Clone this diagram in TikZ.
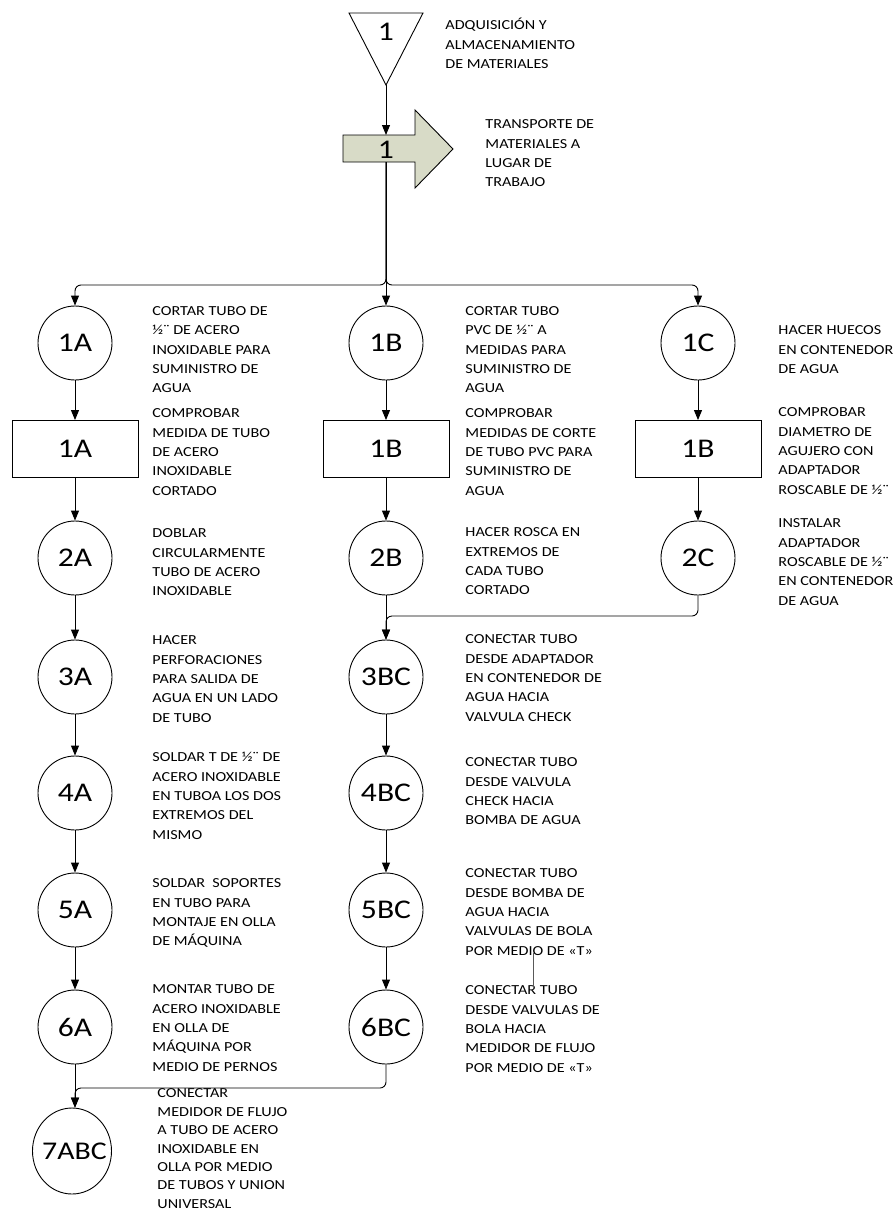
\documentclass[tikz,border=0pt]{standalone}
\usepackage{fontspec}
\setmainfont{Carlito}[FakeStretch=1.17]
\usetikzlibrary{arrows.meta,shapes.geometric}
\definecolor{transfill}{RGB}{216,219,199}
% description text: (name, x, y of first line, lines)
\newcommand\desc[4]{\node[desc] (#1) at ({#2},{#3-8.65}) {\rule{0pt}{13pt}#4};}
\begin{document}
\begin{tikzpicture}[x=1pt,y=-1pt,
  line width=0.9pt,
  arr/.style={-{Triangle[length=10pt,width=8pt]}},
  bigtext/.style={font=\fontsize{27}{30}\selectfont},
  op/.style={circle,draw,minimum size=74pt,inner sep=0pt,bigtext},
  insp/.style={rectangle,draw,minimum width=126pt,minimum height=57pt,inner sep=0pt,bigtext},
  desc/.style={anchor=north west,inner sep=0pt,align=left,font=\fontsize{13.8}{19.3}\selectfont},
  elbow/.style={rounded corners=6pt}
]
\useasboundingbox (0,0) rectangle (895,1213);

% storage triangle
\draw (349,13) -- (423,13) -- (386,85) -- cycle;
\node[bigtext,inner sep=0pt] (t1) at (386,32) {1};
\coordinate (t1tip) at (386,85);

% transport arrow
\draw[fill=transfill] (343,135) -- (415,135) -- (415,110) -- (453,149)
  -- (415,188) -- (415,162) -- (343,162) -- cycle;
\node[bigtext,inner sep=0pt] (tr1) at (386,150) {1};
\coordinate (tr1top) at (386,135);
\coordinate (tr1bot) at (386,162);
\coordinate (bus) at (386,285);

% column A
\node[op] (c1A) at (75,343) {1A};
\node[insp] (b1A) at (75,449) {1A};
\node[op] (c2A) at (75,558) {2A};
\node[op] (c3A) at (75,677) {3A};
\node[op] (c4A) at (75,793) {4A};
\node[op] (c5A) at (75,910) {5A};
\node[op] (c6A) at (75,1027) {6A};
\node[ellipse,draw,minimum width=79pt,minimum height=86pt,inner sep=0pt,
  label={[font=\fontsize{25.5}{28}\selectfont,inner sep=0pt,xshift=2.5pt]center:7ABC}] (c7) at (72,1151) {};

% column B
\node[op] (c1B) at (386,343) {1B};
\node[insp] (b1B) at (386,449) {1B};
\node[op] (c2B) at (386,558) {2B};
\node[op] (c3BC) at (386,677) {3BC};
\node[op] (c4BC) at (386,793) {4BC};
\node[op] (c5BC) at (386,910) {5BC};
\node[op] (c6BC) at (386,1027) {6BC};

% column C
\node[op] (c1C) at (698,343) {1C};
\node[insp] (b1C) at (698,449) {1B};
\node[op] (c2C) at (698,558) {2C};

% descriptions
\desc{dt1}{445}{25}{ADQUISICIÓN Y\\ALMACENAMIENTO\\DE MATERIALES}
\desc{dtr1}{485}{124}{TRANSPORTE DE\\MATERIALES A\\LUGAR DE\\TRABAJO}

\desc{d1A}{152}{310.7}{CORTAR TUBO DE\\½¨ DE ACERO\\INOXIDABLE PARA\\SUMINISTRO DE\\AGUA}
\desc{db1A}{152}{413}{COMPROBAR\\MEDIDA DE TUBO\\DE ACERO\\INOXIDABLE\\CORTADO}
\desc{d2A}{152}{533}{DOBLAR\\CIRCULARMENTE\\TUBO DE ACERO\\INOXIDABLE}
\desc{d3A}{152}{640}{HACER\\PERFORACIONES\\PARA SALIDA DE\\AGUA EN UN LADO\\DE TUBO}
\desc{d4A}{152}{757}{SOLDAR T DE ½¨ DE\\ACERO INOXIDABLE\\EN TUBOA LOS DOS\\EXTREMOS DEL\\MISMO}
\desc{d5A}{152}{883}{SOLDAR\ \ SOPORTES\\EN TUBO PARA\\MONTAJE EN OLLA\\DE MÁQUINA}
\desc{d6A}{152}{989}{MONTAR TUBO DE\\ACERO INOXIDABLE\\EN OLLA DE\\MÁQUINA POR\\MEDIO DE PERNOS}
\node[desc,font=\fontsize{13.8}{18.4}\selectfont] (d7) at (157,{1093-8.65})
  {\rule{0pt}{13pt}CONECTAR\\MEDIDOR DE FLUJO\\A TUBO DE ACERO\\INOXIDABLE EN\\OLLA POR MEDIO\\DE TUBOS Y UNION\\UNIVERSAL};

\desc{d1B}{465}{310.7}{CORTAR TUBO\\PVC DE ½¨ A\\MEDIDAS PARA\\SUMINISTRO DE\\AGUA}
\desc{db1B}{465}{413}{COMPROBAR\\MEDIDAS DE CORTE\\DE TUBO PVC PARA\\SUMINISTRO DE\\AGUA}
\desc{d2B}{465}{532}{HACER ROSCA EN\\EXTREMOS DE\\CADA TUBO\\CORTADO}
\desc{d3BC}{465}{639}{CONECTAR TUBO\\DESDE ADAPTADOR\\EN CONTENEDOR DE\\AGUA HACIA\\VALVULA CHECK}
\desc{d4BC}{465}{762}{CONECTAR TUBO\\DESDE VALVULA\\CHECK HACIA\\BOMBA DE AGUA}
\desc{d5BC}{465}{873}{CONECTAR TUBO\\DESDE BOMBA DE\\AGUA HACIA\\VALVULAS DE BOLA\\POR MEDIO DE «T»}
\desc{d6BC}{465}{990}{CONECTAR TUBO\\DESDE VALVULAS DE\\BOLA HACIA\\MEDIDOR DE FLUJO\\POR MEDIO DE «T»}

\desc{d1C}{778}{330}{HACER HUECOS\\EN CONTENEDOR\\DE AGUA}
\desc{db1C}{778}{412}{COMPROBAR\\DIAMETRO DE\\AGUJERO CON\\ADAPTADOR\\ROSCABLE DE ½¨}
\desc{d2C}{778}{523}{INSTALAR\\ADAPTADOR\\ROSCABLE DE ½¨\\EN CONTENEDOR\\DE AGUA}

% connectors
\draw[arr] (t1tip) -- (tr1top);
\draw[arr] (tr1bot) -- (c1B.north);
\draw[arr,elbow] (tr1bot) -- (bus) -| (c1A.north);
\draw[arr,elbow] (tr1bot) -- (bus) -| (c1C.north);

\draw[arr] (c1A) -- (b1A);
\draw[arr] (b1A) -- (c2A);
\draw[arr] (c2A) -- (c3A);
\draw[arr] (c3A) -- (c4A);
\draw[arr] (c4A) -- (c5A);
\draw[arr] (c5A) -- (c6A);
\coordinate (c7in) at (c6A.south |- c7.north);
\draw[arr] (c6A.south) -- (c7in);

\draw[arr] (c1B) -- (b1B);
\draw[arr] (b1B) -- (c2B);
\draw[arr] (c2B) -- (c3BC);
\draw[arr] (c3BC) -- (c4BC);
\draw[arr] (c4BC) -- (c5BC);
\draw[arr] (c5BC) -- (c6BC);

\draw[arr] (c1C) -- (b1C);
\draw[arr] (b1C) -- (c2C);

\coordinate (j2C) at (698,616);
\draw[arr,elbow] (c2C.south) -- (j2C) -| (c3BC.north);
\coordinate (j6BC) at (386,1088);
\draw[arr,elbow] (c6BC.south) -- (j6BC) -| (c7in);

% short grey stroke between the 5BC and 6BC notes
\coordinate (s1) at (533,953);
\coordinate (s2) at (533,987);
\draw[black!65,line width=0.8pt] (s1) -- (s2);
\end{tikzpicture}
\end{document}
